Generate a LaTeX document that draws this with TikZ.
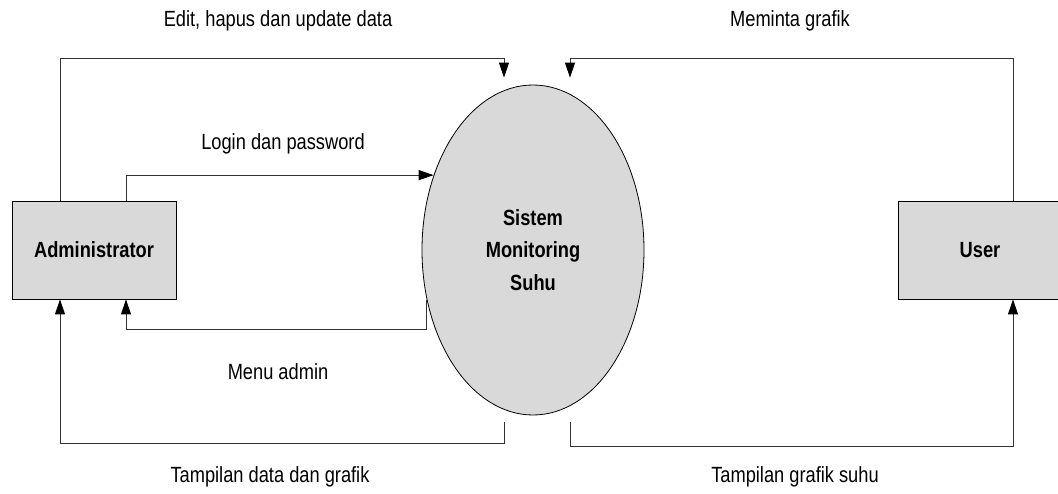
\documentclass[tikz,border=0pt]{standalone}
\usepackage{fontspec}
\setmainfont[FakeStretch=0.83]{Liberation Sans}
\usetikzlibrary{shapes.geometric, arrows.meta, positioning, calc}
\definecolor{dfdgray}{RGB}{217, 217, 217}
\definecolor{dfdline}{RGB}{50, 50, 50}
\newcommand{\dfdfont}{\fontsize{22}{32.5}\selectfont}
\tikzset{
  entity/.style={draw=black, fill=dfdgray, line width=0.9pt, minimum width=164pt, minimum height=98pt, inner sep=0pt, font=\dfdfont\bfseries},
  proses/.style={ellipse, draw=black, fill=dfdgray, line width=0.8pt, minimum width=222pt, minimum height=330pt, inner sep=0pt, align=center, font=\dfdfont\bfseries},
  flow/.style={draw=dfdline, line width=1pt, -{Triangle[length=15pt, width=10pt, color=black]}},
  flowlabel/.style={inner sep=0pt, font=\dfdfont}
}

\begin{document}
\begin{tikzpicture}[x=1pt, y=-1pt]
  \useasboundingbox (0,0) rectangle (1058,494);

  \node[entity] (admin) at (94,250) {Administrator};
  \node[entity] (user) at (980,250) {User};
  \node[proses] (sistem) at (533,250) {Sistem\\Monitoring\\Suhu};

  \coordinate (editend) at ([xshift=-29pt, yshift=7pt]sistem.north);
  \coordinate (mintaend) at ([xshift=37pt, yshift=7pt]sistem.north);
  \coordinate (tampilout) at ([xshift=-29pt, yshift=-7pt]sistem.south);
  \coordinate (grafikout) at ([xshift=37pt, yshift=-7pt]sistem.south);

  \draw[flow] ([xshift=-34pt]admin.north) |- ([yshift=19pt]editend) -- (editend);
  \draw[flow] ([xshift=32pt]admin.north) |- (sistem.143.7);
  \draw[flow] (sistem.205) -- (sistem.205 |- 0,330) -| ([xshift=32pt]admin.south);
  \draw[flow] (tampilout) -- ++(0,21) -| ([xshift=-34pt]admin.south);
  \draw[flow] ([xshift=33pt]user.north) |- ([yshift=19pt]mintaend) -- (mintaend);
  \draw[flow] (grafikout) -- ++(0,24) -| ([xshift=33pt]user.south);

  \node[flowlabel] (leditt) at (278,21) {Edit, hapus dan update data};
  \node[flowlabel] (lminta) at (790,21) {Meminta grafik};
  \node[flowlabel] (llogin) at (283,144) {Login dan password};
  \node[flowlabel] (lmenu) at (278,372) {Menu admin};
  \node[flowlabel] (ltampil) at (270,477) {Tampilan data dan grafik};
  \node[flowlabel] (lgrafik) at (795,477) {Tampilan grafik suhu};
\end{tikzpicture}
\end{document}
